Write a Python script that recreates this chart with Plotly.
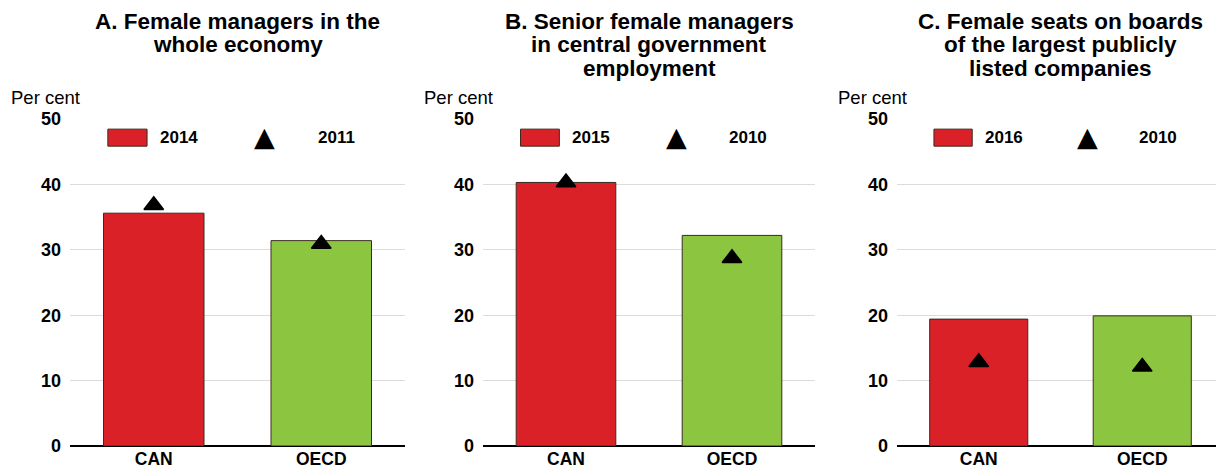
"""Women in management: Canada vs OECD, three bar panels with earlier-year markers."""

import plotly.graph_objects as go

# Data (per cent)
CATEGORIES = ["CAN", "OECD"]

PANEL_TITLES = [
    ["A. Female managers in the", "whole economy"],
    ["B. Senior female managers", "in central government", "employment"],
    ["C. Female seats on boards", "of the largest publicly", "listed companies"],
]

BAR_YEARS = ["2014", "2015", "2016"]
MARKER_YEARS = ["2011", "2010", "2010"]

MANAGERS_ECONOMY = [35.6, 31.4]
MANAGERS_ECONOMY_EARLY = [36.8, 30.9]

SENIOR_GOV = [40.3, 32.2]
SENIOR_GOV_EARLY = [40.3, 28.7]

BOARD_SEATS = [19.4, 19.9]
BOARD_SEATS_EARLY = [12.8, 12.1]

BAR_VALUES = [MANAGERS_ECONOMY, SENIOR_GOV, BOARD_SEATS]
MARKER_VALUES = [MANAGERS_ECONOMY_EARLY, SENIOR_GOV_EARLY, BOARD_SEATS_EARLY]

Y_TICKS = [0, 10, 20, 30, 40, 50]

RED = "#DA2128"
GREEN = "#8CC641"
FONT = "Liberation Sans, Arial, sans-serif"

# The page body has a default 8px margin, so the figure is drawn 8px smaller
# and every pixel position of the original (1224 x 469) is shifted by 8px.
OFF = 8
W, H = 1224 - OFF, 469 - OFF
X_DOMAINS = [(70 - OFF, 405 - OFF), (483 - OFF, 815 - OFF), (897 - OFF, 1224 - OFF)]
Y_DOMAIN = ((H - (446 - OFF)) / H, (H - (119 - OFF)) / H)
TITLE_LINE_Y = [21 - OFF, 44.5 - OFF, 68 - OFF]  # centre of each title line
UNIT_Y = 97 - OFF

fig = go.Figure()

for i in range(3):
    xa = "x" if i == 0 else f"x{i + 1}"
    ya = "y" if i == 0 else f"y{i + 1}"

    fig.add_trace(
        go.Bar(
            x=CATEGORIES,
            y=BAR_VALUES[i],
            width=0.6,
            marker=dict(color=[RED, GREEN], line=dict(color="#3a2a20", width=1)),
            xaxis=xa,
            yaxis=ya,
            showlegend=False,
            name=BAR_YEARS[i],
        )
    )
    fig.add_trace(
        go.Scatter(
            x=CATEGORIES,
            y=MARKER_VALUES[i],
            mode="markers",
            marker=dict(symbol="triangle-up", size=17, color="black",
                        line=dict(color="black", width=1.5)),
            xaxis=xa,
            yaxis=ya,
            showlegend=False,
            name=MARKER_YEARS[i],
        )
    )

layout = dict(
    width=W,
    height=H,
    margin=dict(l=0, r=0, t=0, b=0, autoexpand=False),
    plot_bgcolor="white",
    paper_bgcolor="white",
    font=dict(family=FONT, color="black"),
)

shapes = []
annotations = []

for i in range(3):
    suffix = "" if i == 0 else str(i + 1)
    x0, x1 = X_DOMAINS[i]
    layout[f"xaxis{suffix}"] = dict(
        domain=[x0 / W, x1 / W],
        anchor=f"y{suffix}",
        range=[-0.5, 1.5],
        showgrid=False,
        showline=False,
        ticks="",
        automargin=False,
        tickfont=dict(size=17.5, family=FONT, weight="bold"),
        fixedrange=True,
    )
    layout[f"yaxis{suffix}"] = dict(
        domain=list(Y_DOMAIN),
        anchor=f"x{suffix}",
        range=[0, 50],
        tickvals=Y_TICKS,
        showgrid=True,
        gridcolor="#DCDCDC",
        gridwidth=1,
        zeroline=True,
        zerolinecolor="black",
        zerolinewidth=1.5,
        showline=False,
        ticks="",
        automargin=False,
        ticklabelstandoff=8,
        tickfont=dict(size=18, family=FONT, weight="bold"),
        fixedrange=True,
    )

    xd = "x domain" if i == 0 else f"x{i + 1} domain"
    yd = "y domain" if i == 0 else f"y{i + 1} domain"

    # panel title, one annotation per line to keep the tight line spacing
    for line, ypx in zip(PANEL_TITLES[i], TITLE_LINE_Y):
        annotations.append(dict(
            text=f"<b>{line}</b>",
            xref=xd, yref="paper", x=0.5, y=(H - ypx) / H,
            xanchor="center", yanchor="middle", showarrow=False,
            font=dict(size=22.5, family=FONT),
        ))
    # unit label
    annotations.append(dict(
        text="Per cent",
        xref=xd, yref="paper", x=0, y=(H - UNIT_Y) / H,
        xshift=-61, xanchor="left", yanchor="middle", showarrow=False,
        font=dict(size=18.5, family=FONT),
    ))

    # legend: bar swatch + year, triangle + year
    shapes.append(dict(
        type="rect", xref=xd, yref=yd,
        x0=0.113, x1=0.23, y0=0.917, y1=0.969,
        fillcolor=RED, line=dict(color="#3a2a20", width=1),
    ))
    annotations.append(dict(
        text=f"<b>{BAR_YEARS[i]}</b>",
        xref=xd, yref=yd, x=0.263, y=0.943,
        xanchor="left", yanchor="middle", showarrow=False,
        font=dict(size=17, family=FONT),
    ))
    annotations.append(dict(
        text="▲",
        xref=xd, yref=yd, x=0.582, y=0.947,
        xanchor="center", yanchor="middle", showarrow=False,
        font=dict(size=27, family="DejaVu Sans", color="black"),
    ))
    annotations.append(dict(
        text=f"<b>{MARKER_YEARS[i]}</b>",
        xref=xd, yref=yd, x=0.734, y=0.943,
        xanchor="left", yanchor="middle", showarrow=False,
        font=dict(size=17, family=FONT),
    ))

layout["shapes"] = shapes
layout["annotations"] = annotations
fig.update_layout(**layout)

fig.write_html("out.html")
